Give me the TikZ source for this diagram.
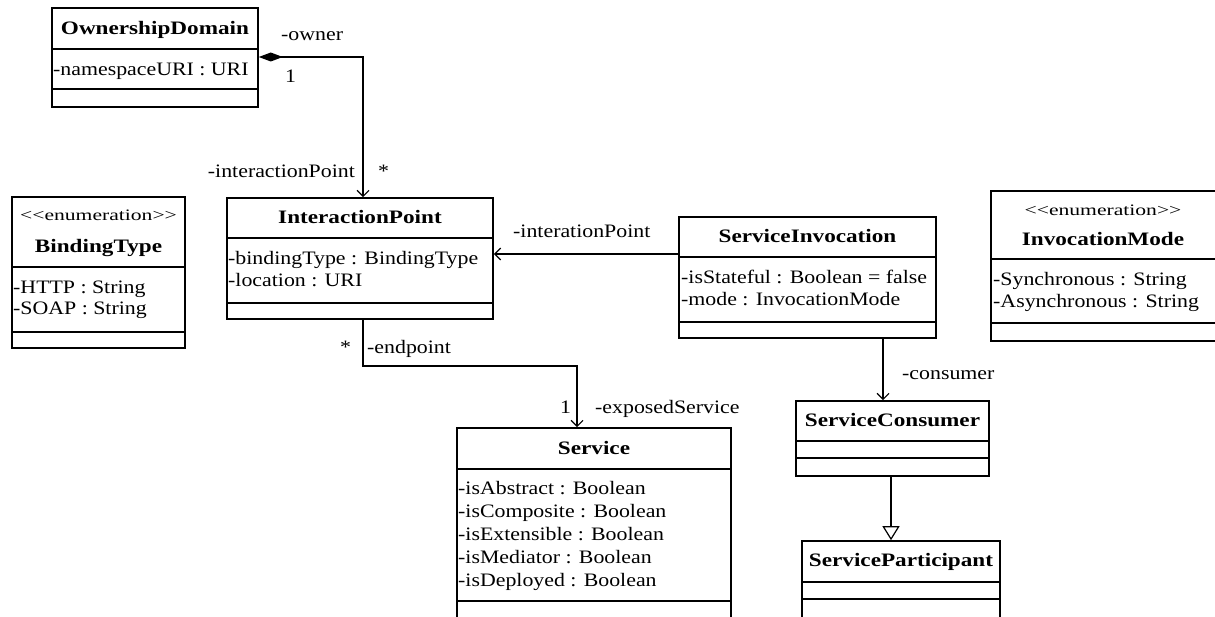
\documentclass[tikz,border=0pt]{standalone}
\usepackage{fontspec}
\setmainfont{Liberation Serif}[FakeStretch=1.15]
\newfontfamily\titlefont{Liberation Serif}[FakeStretch=1.22]
\newfontfamily\stereofont{Liberation Serif}[FakeStretch=1.35]
\usetikzlibrary{arrows.meta,fit}

\tikzset{
  classbox/.style={draw, line width=1.6pt, inner sep=0pt, fill=white},
  divider/.style={line width=1.6pt},
  classtitle/.style={font=\titlefont\bfseries\fontsize{19}{22}\selectfont, anchor=base, inner sep=0pt},
  attr/.style={font=\fontsize{19}{22}\selectfont, anchor=base west, inner sep=0pt},
  stereo/.style={font=\stereofont\fontsize{16}{18}\selectfont, anchor=base, inner sep=0pt},
  role/.style={font=\fontsize{19}{22}\selectfont, anchor=base west, inner sep=0pt},
  assoc/.style={line width=1.4pt, -{Straight Barb[length=6pt,width=12pt,line width=1.2pt]}},
  comp/.style={line width=1.4pt, {Diamond[length=24pt,width=9pt]}-{Straight Barb[length=6pt,width=12pt,line width=1.2pt]}},
  gen/.style={line width=1.4pt, -{Triangle[open,length=14pt,width=17pt,line width=1.2pt]}}
}

% class box: name, left, top, right, first divider, second divider, bottom
\newcommand\umlbox[7]{%
  \node[classbox, fit={(#2,#3) (#4,#7)}] (#1) {};
  \draw[divider] (#2,#5) -- (#4,#5) (#2,#6) -- (#4,#6);
}

\begin{document}
\begin{tikzpicture}[x=1pt,y=-1pt]
\useasboundingbox (0,0) rectangle (1215,617);
\clip (0,0) rectangle (1215,617);
\fill[white] (0,0) rectangle (1215,617);

% class boxes
\umlbox{od}{52}{8}{258}{49}{89}{107}
\umlbox{bt}{12}{197}{185}{267}{332}{348}
\umlbox{ip}{227}{198}{493}{238}{303}{319}
\umlbox{si}{679}{217}{936}{257}{322}{338}
\umlbox{im}{991}{191}{1216}{259}{323}{341}
\umlbox{sv}{457}{428}{731}{469}{601}{640}
\umlbox{sc}{796}{401}{989}{441}{458}{476}
\umlbox{sp}{802}{541}{1000}{582}{599}{640}

% OwnershipDomain
\node[classtitle] (odt) at (155,35) {OwnershipDomain};
\node[attr] (oda) at (53,76) {-namespaceURI : URI};

% BindingType
\node[stereo] (bts) at (98.5,221) {<<enumeration>>};
\node[classtitle] (btt) at (98.5,253) {BindingType};
\node[attr] (bta1) at (13,294) {-HTTP : String};
\node[attr] (bta2) at (13,315) {-SOAP : String};

% InteractionPoint
\node[classtitle] (ipt) at (360,224) {InteractionPoint};
\node[attr] (ipa1) at (228,265) {-bindingType : BindingType};
\node[attr] (ipa2) at (228,287) {-location : URI};

% ServiceInvocation
\node[classtitle] (sit) at (807.5,243) {ServiceInvocation};
\node[attr] (sia1) at (681,284) {-isStateful : Boolean = false};
\node[attr] (sia2) at (681,306) {-mode : InvocationMode};

% InvocationMode
\node[stereo] (ims) at (1103,216) {<<enumeration>>};
\node[classtitle] (imt) at (1103,246) {InvocationMode};
\node[attr] (ima1) at (993,286) {-Synchronous : String};
\node[attr] (ima2) at (993,308) {-Asynchronous : String};

% Service
\node[classtitle] (svt) at (594,454) {Service};
\node[attr] (sva1) at (458,494) {-isAbstract : Boolean};
\node[attr] (sva2) at (458,517) {-isComposite : Boolean};
\node[attr] (sva3) at (458,540) {-isExtensible : Boolean};
\node[attr] (sva4) at (458,563) {-isMediator : Boolean};
\node[attr] (sva5) at (458,586) {-isDeployed : Boolean};

% ServiceConsumer and ServiceParticipant
\node[classtitle] (sct) at (892.5,426) {ServiceConsumer};
\node[classtitle] (spt) at (901,566) {ServiceParticipant};

% connectors
\coordinate (k1) at (363,57);
\draw[comp] (od.east |- k1) -- (k1) -- (k1 |- ip.north);

\coordinate (k2) at (600,254);
\draw[assoc] (si.west |- k2) -- (ip.east |- k2);

\coordinate (k3) at (363,366);
\coordinate (k4) at (577,366);
\draw[assoc] (k3 |- ip.south) -- (k3) -- (k4) -- (k4 |- sv.north);

\coordinate (k5) at (883,370);
\draw[assoc] (k5 |- si.south) -- (k5 |- sc.north);

\coordinate (k6) at (891,510);
\draw[gen] (k6 |- sc.south) -- (k6 |- sp.north);

% role names and multiplicities
\node[role] (r1) at (281,41) {-owner};
\node[role] (m1) at (285,83) {1};
\node[role, anchor=base east] (r2) at (355,178) {-interactionPoint};
\node[role] (m2) at (378,178) {*};
\node[role] (r3) at (513,238) {-interationPoint};
\node[role] (m3) at (340,353) {*};
\node[role] (r4) at (367,353) {-endpoint};
\node[role] (m4) at (560,413) {1};
\node[role] (r5) at (595,413) {-exposedService};
\node[role] (r6) at (902,379) {-consumer};
\end{tikzpicture}
\end{document}
